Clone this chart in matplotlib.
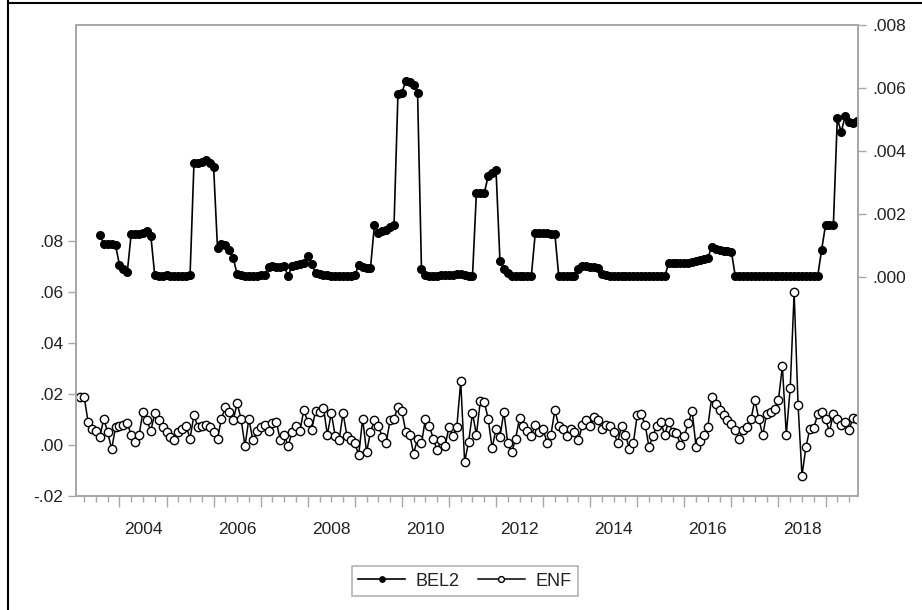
import matplotlib
matplotlib.use('Agg')
import matplotlib.pyplot as plt
import numpy as np
from matplotlib.ticker import FixedLocator, FuncFormatter, NullFormatter
from matplotlib.lines import Line2D

plt.rcParams['font.family'] = ['Liberation Sans', 'DejaVu Sans']

# ---------------- data ----------------
enf_start = (2003, 3)    # first ENF observation (year, month)
bel2_start = (2003, 8)   # first BEL2 observation (year, month)

enf = [0.019, 0.019, 0.0091, 0.0063, 0.0055, 0.0032, 0.0103, 0.005, -0.0016, 0.0069,
       0.0075, 0.008, 0.0085, 0.004, 0.0012, 0.004, 0.013, 0.0097, 0.0055, 0.0125,
       0.0097, 0.0069, 0.0051, 0.0032, 0.0019, 0.0051, 0.0063, 0.0075, 0.0025, 0.0118,
       0.0069, 0.0075, 0.008, 0.0069, 0.0051, 0.0025, 0.0103, 0.015, 0.013, 0.0097,
       0.0164, 0.0103, -0.0004, 0.0103, 0.0019, 0.0055, 0.0069, 0.008, 0.0055, 0.0085,
       # 2007 - 2011
       0.0091, 0.0019, 0.004, -0.0004, 0.0051, 0.0075, 0.0055, 0.0137, 0.0091, 0.006,
       0.0133, 0.013, 0.0147, 0.004, 0.0125, 0.0036, 0.0019, 0.0125, 0.0036, 0.0019,
       0.0006, -0.0038, 0.0103, -0.0028, 0.0051, 0.0097, 0.0075, 0.0032, 0.0009, 0.0097,
       0.0103, 0.015, 0.0133, 0.0051, 0.004, -0.0034, 0.0025, 0.0006, 0.0103, 0.0075,
       0.0025, -0.0021, 0.0019, -0.0004, 0.0069, 0.0036, 0.0069, 0.025, -0.0067, 0.0012,
       0.0125,
       # 2011 - 2015
       0.004, 0.0173, 0.017, 0.0103, -0.0012, 0.0063, 0.0032, 0.013, 0.0006, -0.0028,
       0.0025, 0.0107, 0.0075, 0.0055, 0.0036, 0.008, 0.0051, 0.0063, 0.0009, 0.004,
       0.0137, 0.0075, 0.0063, 0.0036, 0.0063, 0.0051, 0.0019, 0.0077, 0.0097, 0.0075,
       0.011, 0.0097, 0.0063, 0.008, 0.0075, 0.0051, 0.0009, 0.0075, 0.004, -0.0016,
       0.0006, 0.0118, 0.012, 0.008, -0.0008, 0.0036, 0.0075, 0.0091, 0.004,
       # 2015 - 2019
       0.0091, 0.0051, 0.0048, 0.0, 0.0036, 0.0085, 0.0133, -0.0008, 0.0015, 0.0038,
       0.0071, 0.019, 0.016, 0.0137, 0.0118, 0.0099, 0.0082, 0.006, 0.0025, 0.006,
       0.0069, 0.0102, 0.0177, 0.0102, 0.0038, 0.0123, 0.0129, 0.0142, 0.0177, 0.0309,
       0.0041, 0.0223, 0.0599, 0.0157, -0.012, -0.0008, 0.0063, 0.0066, 0.012, 0.0128,
       0.0102, 0.0051, 0.0123, 0.0102, 0.0078, 0.0091, 0.0058, 0.0107, 0.0102]

bel2 = [0.00132, 0.00105, 0.00105, 0.00105, 0.00100, 0.00038, 0.00025, 0.00015,
        0.00137, 0.00137, 0.00137, 0.00140, 0.00145, 0.00130,
        0.00005, 0.00003, 0.00003, 0.00004, 0.00003, 0.00003, 0.00002, 0.00003, 0.00003, 0.00004,
        0.00362, 0.00360, 0.00364, 0.00370, 0.00360, 0.00350,
        0.00090, 0.00104, 0.00100, 0.00085, 0.00060,
        0.00008, 0.00004, 0.00003, 0.00003, 0.00003, 0.00003, 0.00004, 0.00005,
        0.00030, 0.00034, 0.00032, 0.00030, 0.00033,
        0.00002, 0.00035, 0.00038, 0.00040, 0.00045, 0.00065, 0.00040,
        0.00012, 0.00010, 0.00005, 0.00005,
        0.00003, 0.00002, 0.00002, 0.00003, 0.00003, 0.00003, 0.00004,
        0.00037, 0.00030, 0.00028, 0.00028,
        0.00164, 0.00140, 0.00145, 0.00150, 0.00157, 0.00164,
        0.00582, 0.00585, 0.00622, 0.00618, 0.00610, 0.00585,
        0.00023, 0.00005,
        0.00003, 0.00002, 0.00003, 0.00004, 0.00005, 0.00006, 0.00007, 0.00010, 0.00008, 0.00006,
        0.00003, 0.00001,
        0.00267, 0.00265, 0.00265, 0.00320, 0.00330, 0.00339,
        0.00051, 0.00023, 0.00013,
        0.00002, 0.00001, 0.00001, 0.00001, 0.00001, 0.00002,
        0.00138, 0.00139, 0.00138, 0.00138, 0.00137, 0.00136,
        0.00001, 0.00001, 0.00001, 0.00001, 0.00002,
        0.00025, 0.00033, 0.00033, 0.00032, 0.00032, 0.00028,
        0.00008, 0.00004, 0.00003, 0.00002, 0.00002, 0.00002, 0.00002, 0.00002, 0.00002,
        0.00002, 0.00001, 0.00001, 0.00001, 0.00001, 0.00001, 0.00001, 0.00001,
        0.00042, 0.00043, 0.00043, 0.00042, 0.00042, 0.00043,
        0.00047, 0.00050, 0.00053, 0.00056, 0.00060,
        0.00095, 0.00088, 0.00085, 0.00083, 0.00082, 0.00080,
        0.00001, 0.00001, 0.00001, 0.00001, 0.00002, 0.00002, 0.00002, 0.00003, 0.00003, 0.00003,
        0.00003, 0.00002, 0.00001, 0.00001, 0.00001, 0.00001, 0.00001, 0.00001, 0.00001, 0.00001,
        0.00001, 0.00001,
        0.00085, 0.00164, 0.00164, 0.00164,
        0.00503, 0.00460, 0.00510, 0.00492, 0.00488, 0.00495]

year_labels = ['2004', '2006', '2008', '2010', '2012', '2014', '2016', '2018']
left_ticks = [-0.02, 0.00, 0.02, 0.04, 0.06, 0.08]
right_ticks = [0.000, 0.002, 0.004, 0.006, 0.008]


def month_axis(start, n):
    y, m = start
    return np.array([y + (m - 1 + i) / 12.0 for i in range(n)])


t_enf = month_axis(enf_start, len(enf))
t_bel = month_axis(bel2_start, len(bel2))

# ---------------- figure ----------------
W, H = 922, 610
fig = plt.figure(figsize=(W / 100, H / 100), dpi=100)
L, R, T, B = 76, 858, 25, 496
ax = fig.add_axes([L / W, 1 - B / H, (R - L) / W, (B - T) / H])
ax2 = ax.twinx()

frame_col = '#a8a8a8'
text_col = '#222222'

h_enf, = ax.plot(t_enf, enf, '-o', color='black', lw=1.1, ms=6,
                 mfc='white', mec='black', mew=1.0, label='ENF')
h_bel, = ax2.plot(t_bel, bel2, '-o', color='black', lw=1.2, ms=5.5,
                  mfc='black', mec='black', mew=1.0, label='BEL2')

ax.set_xlim(2003.077, 2019.69)
ax.set_ylim(-0.02, 0.1647)
ax2.set_ylim(-0.00697, 0.008)

for a in (ax, ax2):
    for s in a.spines.values():
        s.set_color(frame_col)
        s.set_linewidth(1.3)

# y axes
ax.yaxis.set_major_locator(FixedLocator(left_ticks))
ax.yaxis.set_major_formatter(FuncFormatter(lambda v, p: f"{v:.2f}".replace('0.', '.', 1)))
ax2.yaxis.set_major_locator(FixedLocator(right_ticks))
ax2.yaxis.set_major_formatter(FuncFormatter(lambda v, p: f"{v:.3f}".replace('0.', '.', 1)))
ax.tick_params(axis='y', direction='out', length=6, width=1, color=frame_col,
               labelsize=12.5, labelcolor=text_col, pad=3)
ax2.tick_params(axis='y', direction='out', length=6, width=1, color=frame_col,
                labelsize=12.5, labelcolor=text_col, pad=4)

# x axis: yearly long ticks, quarterly short ticks, labels mid-year
years = np.arange(2004, 2020)
ax.xaxis.set_major_locator(FixedLocator(years))
ax.xaxis.set_major_formatter(NullFormatter())
quarters = [y + q / 4 for y in range(2003, 2020) for q in (1, 2, 3)]
ax.xaxis.set_minor_locator(FixedLocator(quarters))
ax.tick_params(axis='x', which='major', direction='out', length=8, width=1, color=frame_col)
ax.tick_params(axis='x', which='minor', direction='out', length=4, width=1, color=frame_col)

sec = ax.secondary_xaxis('bottom')
sec.set_xticks([int(y) + 0.5 for y in year_labels])
sec.set_xticklabels(year_labels)
sec.tick_params(axis='x', length=0, labelsize=12.5, labelcolor=text_col, pad=19)
sec.spines['bottom'].set_visible(False)

# legend
leg = fig.legend([h_bel, h_enf], ['BEL2', 'ENF'], loc='center',
                 bbox_to_anchor=(465 / W, 1 - 581 / H), ncol=2, frameon=True,
                 fancybox=False, edgecolor='#a0a0a0', fontsize=13, handlelength=2.6,
                 markerscale=0.7, columnspacing=1.0, handletextpad=0.6, borderpad=0.35)
leg.get_frame().set_linewidth(1.2)
for txt in leg.get_texts():
    txt.set_color(text_col)

# outer screenshot border lines
fig.add_artist(Line2D([8 / W, 8 / W], [0, 1], color='black', lw=1.5, transform=fig.transFigure))
fig.add_artist(Line2D([8 / W, 1], [1 - 3 / H, 1 - 3 / H], color='black', lw=1.5,
                      transform=fig.transFigure))

fig.savefig('out.png', dpi=100)
